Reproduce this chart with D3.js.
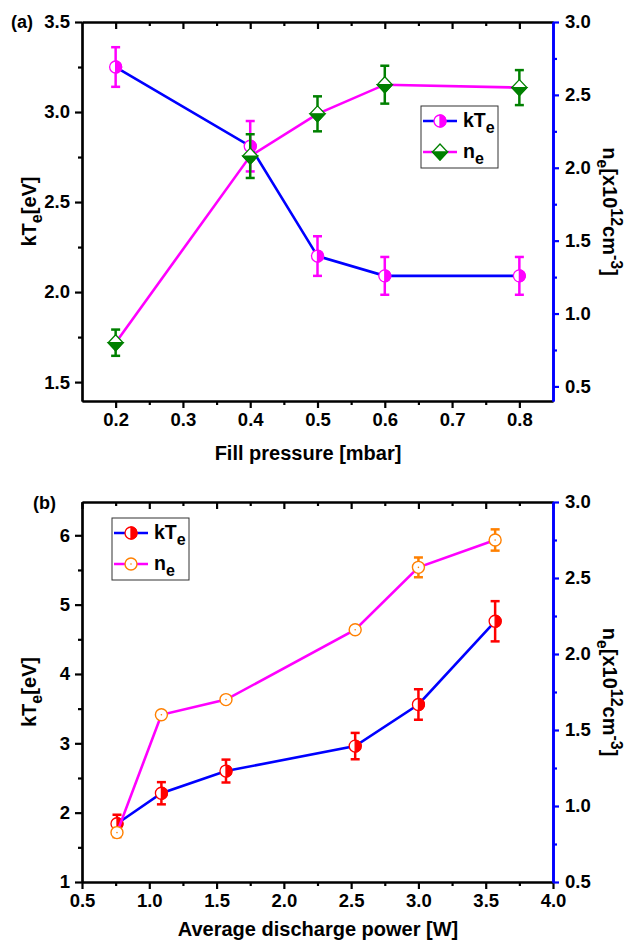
<!DOCTYPE html>
<html>
<head>
<meta charset="utf-8">
<script src="https://cdn.jsdelivr.net/npm/d3@7"></script>
<style>
  body { margin: 0; background: #fff; }
  text { font-family: "Liberation Sans", Arial, sans-serif; font-weight: bold; }
</style>
</head>
<body>
<div id="chart"></div>
<script>
// panel (a): fill pressure
const pressure = [0.2, 0.4, 0.5, 0.6, 0.8];
const kTeA = [3.25, 2.81, 2.20, 2.09, 2.09];
const kTeAErr = [0.11, 0.14, 0.11, 0.105, 0.105];
const neA = [0.80, 2.08, 2.37, 2.57, 2.55];
const neAErr = [0.09, 0.15, 0.12, 0.13, 0.12];

// panel (b): discharge power
const power = [0.76, 1.09, 1.57, 2.53, 3.0, 3.57];
const kTeB = [1.84, 2.28, 2.60, 2.96, 3.56, 4.76];
const kTeBErr = [0.13, 0.16, 0.165, 0.19, 0.22, 0.29];
const neB = [0.825, 1.60, 1.70, 2.16, 2.57, 2.75];
const neBErr = [0.03, 0.02, 0.02, 0.02, 0.065, 0.07];

// ticks
const xTicksA = [0.2, 0.3, 0.4, 0.5, 0.6, 0.7, 0.8];
const xMinorA = [0.25, 0.35, 0.45, 0.55, 0.65, 0.75];
const yTicksA = [1.5, 2.0, 2.5, 3.0, 3.5];
const yMinorA = [1.75, 2.25, 2.75, 3.25];
const y2TicksA = [0.5, 1.0, 1.5, 2.0, 2.5, 3.0];
const y2MinorA = [0.75, 1.25, 1.75, 2.25, 2.75];

const xTicksB = [0.5, 1.0, 1.5, 2.0, 2.5, 3.0, 3.5, 4.0];
const xMinorB = [0.75, 1.25, 1.75, 2.25, 2.75, 3.25, 3.75];
const yTicksB = [1, 2, 3, 4, 5, 6];
const yMinorB = [1.5, 2.5, 3.5, 4.5, 5.5];
const y2TicksB = [0.5, 1.0, 1.5, 2.0, 2.5, 3.0];
const y2MinorB = [0.75, 1.25, 1.75, 2.25, 2.75];

const width = 629;
const height = 942;
const left = 82, right = 553;

const svg = d3.select('#chart')
  .append('svg')
  .attr('width', width)
  .attr('height', height);

function drawAxes(g, x, y, y2, o) {
  const top = y.range()[1], bottom = y.range()[0];
  // bottom
  g.append('g').attr('transform', 'translate(0,' + bottom + ')')
    .call(d3.axisBottom(x).tickValues(o.xt).tickFormat(d3.format('.1f')).tickSize(7).tickSizeOuter(0).tickPadding(5))
    .call(a => a.selectAll('text').attr('font-size', 18.5).attr('fill', '#000'));
  g.append('g').attr('transform', 'translate(0,' + bottom + ')')
    .call(d3.axisBottom(x).tickValues(o.xm).tickFormat('').tickSize(4).tickSizeOuter(0));
  // top, inward ticks
  g.append('g').attr('transform', 'translate(0,' + top + ')')
    .call(d3.axisTop(x).tickValues(o.xt).tickFormat('').tickSize(-7).tickSizeOuter(0));
  g.append('g').attr('transform', 'translate(0,' + top + ')')
    .call(d3.axisTop(x).tickValues(o.xm).tickFormat('').tickSize(-4).tickSizeOuter(0));
  // left
  g.append('g').attr('transform', 'translate(' + left + ',0)')
    .call(d3.axisLeft(y).tickValues(o.yt).tickFormat(o.yf).tickSize(7).tickSizeOuter(0).tickPadding(5))
    .call(a => a.selectAll('text').attr('font-size', 18.5).attr('fill', '#000'));
  g.append('g').attr('transform', 'translate(' + left + ',0)')
    .call(d3.axisLeft(y).tickValues(o.ym).tickFormat('').tickSize(4).tickSizeOuter(0));
  // right, blue
  const r1 = g.append('g').attr('transform', 'translate(' + right + ',0)')
    .call(d3.axisRight(y2).tickValues(o.y2t).tickFormat(d3.format('.1f')).tickSize(6).tickSizeOuter(0).tickPadding(6))
    .call(a => a.selectAll('text').attr('font-size', 18.5).attr('fill', '#000'));
  const r2 = g.append('g').attr('transform', 'translate(' + right + ',0)')
    .call(d3.axisRight(y2).tickValues(o.y2m).tickFormat('').tickSize(4).tickSizeOuter(0));
  g.selectAll('.domain').attr('stroke', '#000').attr('stroke-width', 2.2);
  g.selectAll('.tick line').attr('stroke', '#000').attr('stroke-width', 2.2);
  [r1, r2].forEach(r => {
    r.selectAll('.domain').attr('stroke', '#0000ff').attr('stroke-width', 2.6);
    r.selectAll('.tick line').attr('stroke', '#0000ff');
  });
}

function errorBars(g, xs, ys, es, x, y, color) {
  xs.forEach((xv, i) => {
    const cx = x(xv), t = y(ys[i] + es[i]), b = y(ys[i] - es[i]);
    g.append('line').attr('x1', cx).attr('x2', cx).attr('y1', t).attr('y2', b)
      .attr('stroke', color).attr('stroke-width', 2.5);
    [t, b].forEach(yy => g.append('line').attr('x1', cx - 4.5).attr('x2', cx + 4.5)
      .attr('y1', yy).attr('y2', yy).attr('stroke', color).attr('stroke-width', 2.5));
  });
}

function halfCircle(g, cx, cy, color) {
  const r = 6;
  const m = g.append('g').attr('transform', 'translate(' + cx + ',' + cy + ')');
  m.append('circle').attr('r', r).attr('fill', '#fff').attr('stroke', color).attr('stroke-width', 1.3);
  m.append('path').attr('d', 'M0,' + (-r) + 'A' + r + ',' + r + ' 0 0 1 0,' + r + 'Z')
    .attr('fill', color).attr('stroke', color).attr('stroke-width', 1.3);
}

function halfDiamond(g, cx, cy, color) {
  const w = 7.5, h = 8;
  const m = g.append('g').attr('transform', 'translate(' + cx + ',' + cy + ')');
  m.append('path').attr('d', 'M0,' + (-h) + 'L' + w + ',0L0,' + h + 'L' + (-w) + ',0Z')
    .attr('fill', '#fff').attr('stroke', color).attr('stroke-width', 1.3);
  m.append('path').attr('d', 'M' + (-w) + ',0L' + w + ',0L0,' + h + 'Z')
    .attr('fill', color).attr('stroke', color).attr('stroke-width', 1.3);
}

function dotCircle(g, cx, cy, color) {
  const m = g.append('g').attr('transform', 'translate(' + cx + ',' + cy + ')');
  m.append('circle').attr('r', 6).attr('fill', '#fff').attr('stroke', color).attr('stroke-width', 1.4);
  m.append('circle').attr('r', 0.8).attr('fill', color);
}

function series(g, xs, ys, es, x, y, lineColor, markColor, marker) {
  g.append('path')
    .datum(xs.map((d, i) => [d, ys[i]]))
    .attr('fill', 'none').attr('stroke', lineColor).attr('stroke-width', 2.6)
    .attr('d', d3.line().x(d => x(d[0])).y(d => y(d[1])));
  errorBars(g, xs, ys, es, x, y, markColor);
  xs.forEach((d, i) => marker(g, x(d), y(ys[i]), markColor));
}

function yLabels(g, top, bottom) {
  const mid = (top + bottom) / 2;
  const l = g.append('text').attr('transform', 'translate(36,' + mid + ') rotate(-90)')
    .attr('text-anchor', 'middle').attr('font-size', 20).attr('fill', '#000');
  l.append('tspan').text('kT');
  l.append('tspan').attr('font-size', 16).attr('dy', 6).text('e');
  l.append('tspan').attr('dy', -6).text('[eV]');

  const r = g.append('text').attr('transform', 'translate(603,' + mid + ') rotate(90)')
    .attr('text-anchor', 'middle').attr('font-size', 20).attr('fill', '#000');
  r.append('tspan').text('n');
  r.append('tspan').attr('font-size', 16).attr('dy', 6).text('e');
  r.append('tspan').attr('dy', -6).text('[x10');
  r.append('tspan').attr('font-size', 16).attr('dy', -8).text('12');
  r.append('tspan').attr('dy', 8).text('cm');
  r.append('tspan').attr('font-size', 16).attr('dy', -8).text('-3');
  r.append('tspan').attr('dy', 8).text(']');
}

function legend(g, x0, y0, entries) {
  g.append('rect').attr('x', x0).attr('y', y0).attr('width', 77).attr('height', 62)
    .attr('fill', '#fff').attr('stroke', '#333').attr('stroke-width', 1);
  entries.forEach((e, i) => {
    const yy = y0 + 15 + i * 31;
    g.append('line').attr('x1', x0 + 2).attr('x2', x0 + 36).attr('y1', yy).attr('y2', yy)
      .attr('stroke', e.line).attr('stroke-width', 2.6);
    e.marker(g, x0 + 19, yy, e.color);
    const t = g.append('text').attr('x', x0 + 42).attr('y', yy + 6)
      .attr('font-size', 19.5).attr('fill', '#000');
    t.append('tspan').text(e.name);
    t.append('tspan').attr('font-size', 16).attr('dy', 6).text('e');
  });
}

// ---------- panel (a)
const xA = d3.scaleLinear().domain([0.15, 0.85]).range([left, right]);
const yA = d3.scaleLinear().domain([1.395, 3.5]).range([401, 22]);
const y2A = d3.scaleLinear().domain([0.4, 3.0]).range([401, 22]);
const gA = svg.append('g');
drawAxes(gA, xA, yA, y2A, {
  xt: xTicksA, xm: xMinorA, yt: yTicksA, ym: yMinorA, yf: d3.format('.1f'),
  y2t: y2TicksA, y2m: y2MinorA
});
series(gA, pressure, kTeA, kTeAErr, xA, yA, '#0000ff', '#ff00ff', halfCircle);
series(gA, pressure, neA, neAErr, xA, y2A, '#ff00ff', '#008000', halfDiamond);
legend(gA, 421, 106, [
  { name: 'kT', line: '#0000ff', color: '#ff00ff', marker: halfCircle },
  { name: 'n', line: '#ff00ff', color: '#008000', marker: halfDiamond }
]);
yLabels(gA, 22, 401);
gA.append('text').attr('x', 308).attr('y', 460).attr('text-anchor', 'middle')
  .attr('font-size', 20).text('Fill pressure [mbar]');
gA.append('text').attr('x', 11).attr('y', 28).attr('font-size', 18).text('(a)');

// ---------- panel (b)
const xB = d3.scaleLinear().domain([0.5, 4.0]).range([left, right]);
const yB = d3.scaleLinear().domain([1, 6.48]).range([882, 502]);
const y2B = d3.scaleLinear().domain([0.5, 3.0]).range([882, 502]);
const gB = svg.append('g');
drawAxes(gB, xB, yB, y2B, {
  xt: xTicksB, xm: xMinorB, yt: yTicksB, ym: yMinorB, yf: d3.format('d'),
  y2t: y2TicksB, y2m: y2MinorB
});
series(gB, power, kTeB, kTeBErr, xB, yB, '#0000ff', '#ff0000', halfCircle);
series(gB, power, neB, neBErr, xB, y2B, '#ff00ff', '#ff8000', dotCircle);
legend(gB, 112, 518, [
  { name: 'kT', line: '#0000ff', color: '#ff0000', marker: halfCircle },
  { name: 'n', line: '#ff00ff', color: '#ff8000', marker: dotCircle }
]);
yLabels(gB, 502, 882);
gB.append('text').attr('x', 318).attr('y', 936).attr('text-anchor', 'middle')
  .attr('font-size', 20).text('Average discharge power [W]');
gB.append('text').attr('x', 33).attr('y', 509).attr('font-size', 18).text('(b)');
</script>
</body>
</html>
